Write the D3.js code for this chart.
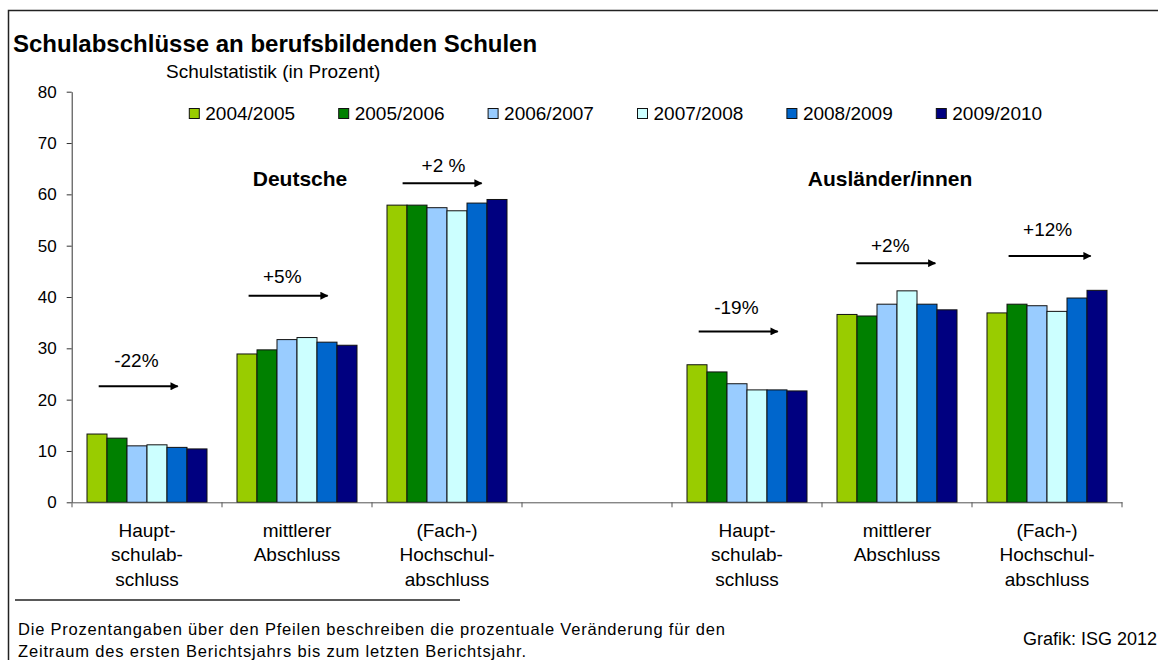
<!DOCTYPE html>
<html>
<head>
<meta charset="utf-8">
<script src="https://cdn.jsdelivr.net/npm/d3@7"></script>
<style>
  body { margin: 0; background: #fff; }
  svg { display: block; font-family: "Liberation Sans", Arial, sans-serif; }
</style>
</head>
<body>
<svg id="chart"></svg>
<script>
// categories (blank slot separates the two groups)
const categories = ["D-Haupt", "D-Mittel", "D-Hoch", "gap", "A-Haupt", "A-Mittel", "A-Hoch"];
const categoryLabels = [
  ["Haupt-", "schulab-", "schluss"],
  ["mittlerer", "Abschluss"],
  ["(Fach-)", "Hochschul-", "abschluss"],
  [],
  ["Haupt-", "schulab-", "schluss"],
  ["mittlerer", "Abschluss"],
  ["(Fach-)", "Hochschul-", "abschluss"]
];
const years = ["2004/2005", "2005/2006", "2006/2007", "2007/2008", "2008/2009", "2009/2010"];
const colors = ["#99cc00", "#008000", "#99ccff", "#ccffff", "#0066cc", "#000080"];

// values per category, one per year
const haupt_de   = [13.3, 12.5, 11.0, 11.2, 10.7, 10.4];
const mittel_de  = [28.9, 29.7, 31.7, 32.1, 31.2, 30.6];
const hoch_de    = [57.9, 57.9, 57.4, 56.8, 58.3, 59.0];
const haupt_aus  = [26.8, 25.4, 23.1, 21.9, 21.9, 21.7];
const mittel_aus = [36.6, 36.3, 38.6, 41.2, 38.6, 37.5];
const hoch_aus   = [36.9, 38.6, 38.3, 37.2, 39.8, 41.3];
const values = [haupt_de, mittel_de, hoch_de, null, haupt_aus, mittel_aus, hoch_aus];

const yTicks = [0, 10, 20, 30, 40, 50, 60, 70, 80];

// change annotations: label, arrow height and label height (in %)
const changeLabels = ["-22%", "+5%", "+2 %", null, "-19%", "+2%", "+12%"];
const arrowLevel   = [22.6, 40.25, 62.15, null, 33.3, 46.6, 48.0];
const labelLevel   = [26.3, 42.8, 64.4, null, 36.7, 48.8, 51.9];

const groups = [
  { name: "Deutsche", cat: "D-Mittel" },
  { name: "Ausländer/innen", cat: "A-Mittel" }
];

const width = 1158, height = 660;
const font = 19;

const svg = d3.select("#chart").attr("width", width).attr("height", height);

svg.append("defs").append("marker")
  .attr("id", "arrow")
  .attr("viewBox", "0 0 10 10")
  .attr("refX", 9).attr("refY", 5)
  .attr("markerWidth", 5).attr("markerHeight", 4)
  .attr("markerUnits", "strokeWidth")
  .attr("orient", "auto")
  .append("path").attr("d", "M0,0L10,5L0,10z").attr("fill", "#000");

// frame (left and top border)
svg.append("path")
  .attr("d", `M8.5,${height}V10.5H${width}`)
  .attr("fill", "none").attr("stroke", "#222").attr("stroke-width", 1.5);

// titles
svg.append("text").attr("x", 13).attr("y", 52)
  .attr("font-size", 24).attr("font-weight", "bold")
  .text("Schulabschlüsse an berufsbildenden Schulen");
svg.append("text").attr("x", 166).attr("y", 78)
  .attr("font-size", 19).text("Schulstatistik (in Prozent)");

// scales
const x0 = d3.scaleBand().domain(categories).range([72, 1122]);
const x1 = d3.scaleBand().domain(years).range([0, x0.bandwidth()]).paddingOuter(0.75);
const y = d3.scaleLinear().domain([0, 80]).range([502.3, 91.7]);

// y axis
svg.append("g")
  .attr("transform", "translate(71.7,0)")
  .call(d3.axisLeft(y).tickValues(yTicks).tickSize(5).tickSizeOuter(0).tickPadding(10))
  .call(g => g.selectAll("path, line").attr("stroke", "#333"))
  .call(g => g.selectAll("text").attr("font-size", 17).attr("font-family", null).attr("fill", "#000"));

// bars
const bars = svg.append("g");
categories.forEach((c, ci) => {
  if (!values[ci]) return;
  bars.append("g")
    .attr("transform", `translate(${x0(c)},0)`)
    .selectAll("rect")
    .data(values[ci].map((v, i) => ({ year: years[i], value: v, color: colors[i] })))
    .join("rect")
    .attr("x", d => x1(d.year))
    .attr("y", d => y(d.value))
    .attr("width", x1.bandwidth())
    .attr("height", d => y(0) - y(d.value))
    .attr("fill", d => d.color)
    .attr("stroke", "#111")
    .attr("stroke-width", 1);
});

// x axis: line with ticks at band boundaries
const xAxis = svg.append("g").attr("transform", `translate(0,${y(0)})`);
xAxis.call(d3.axisBottom(x0).tickSize(0).tickFormat(""))
  .call(g => g.select(".domain").attr("stroke", "#555"));
xAxis.selectAll("line.bound")
  .data(categories.map(c => x0(c)).concat([x0.range()[1]]))
  .join("line")
  .attr("class", "bound")
  .attr("x1", d => d).attr("x2", d => d)
  .attr("y1", 0).attr("y2", 5)
  .attr("stroke", "#555");

// category labels
svg.append("g").selectAll("text")
  .data(categories.map((c, i) => ({ c, lines: categoryLabels[i] })))
  .join("text")
  .attr("x", d => x0(d.c) + x0.bandwidth() / 2)
  .attr("y", 536.7)
  .attr("text-anchor", "middle")
  .attr("font-size", font)
  .selectAll("tspan")
  .data(d => d.lines.map(l => ({ l, x: x0(d.c) + x0.bandwidth() / 2 })))
  .join("tspan")
  .attr("x", d => d.x)
  .attr("dy", (d, i) => i === 0 ? 0 : 24.4)
  .text(d => d.l);

// legend
const legend = svg.append("g").selectAll("g")
  .data(years)
  .join("g")
  .attr("transform", (d, i) => `translate(${189.3 + i * 149.4},108.5)`);
legend.append("rect")
  .attr("width", 10).attr("height", 10)
  .attr("fill", (d, i) => colors[i])
  .attr("stroke", "#111");
legend.append("text")
  .attr("x", 16).attr("y", 11.5)
  .attr("font-size", font)
  .text(d => d);

// group labels
svg.append("g").selectAll("text")
  .data(groups)
  .join("text")
  .attr("x", (d, i) => x0(d.cat) + x0.bandwidth() / 2 + [3, -7][i])
  .attr("y", 185.7)
  .attr("text-anchor", "middle")
  .attr("font-size", 21).attr("font-weight", "bold")
  .text(d => d.name);

// change arrows
const arrowStart = [26.7, 26.6, 30.6, 0, 26.7, 34.3, 36.6];
const arrowLen = 79;
const labelOffset = [64.4, 60.3, 71.5, 0, 64.4, 68.3, 75.6];
const ann = svg.append("g");
categories.forEach((c, i) => {
  if (!changeLabels[i]) return;
  const bx = x0(c);
  ann.append("line")
    .attr("x1", bx + arrowStart[i])
    .attr("x2", bx + arrowStart[i] + arrowLen + (i === 6 ? 3 : 0))
    .attr("y1", y(arrowLevel[i])).attr("y2", y(arrowLevel[i]))
    .attr("stroke", "#000").attr("stroke-width", 2)
    .attr("marker-end", "url(#arrow)");
  ann.append("text")
    .attr("x", bx + labelOffset[i])
    .attr("y", y(labelLevel[i]))
    .attr("text-anchor", "middle")
    .attr("font-size", font)
    .text(changeLabels[i]);
});

// footer
svg.append("line")
  .attr("x1", 15).attr("x2", 460).attr("y1", 600).attr("y2", 600)
  .attr("stroke", "#222").attr("stroke-width", 1.5);
svg.append("text").attr("x", 18).attr("y", 635)
  .attr("font-size", 16.5).attr("textLength", 707).attr("lengthAdjust", "spacing")
  .text("Die Prozentangaben über den Pfeilen beschreiben die prozentuale Veränderung für den");
svg.append("text").attr("x", 18).attr("y", 656.5)
  .attr("font-size", 16.5).attr("textLength", 508).attr("lengthAdjust", "spacing")
  .text("Zeitraum des ersten Berichtsjahrs bis zum letzten Berichtsjahr.");
svg.append("text").attr("x", 1157).attr("y", 645)
  .attr("text-anchor", "end").attr("font-size", 18)
  .text("Grafik: ISG 2012");
</script>
</body>
</html>
